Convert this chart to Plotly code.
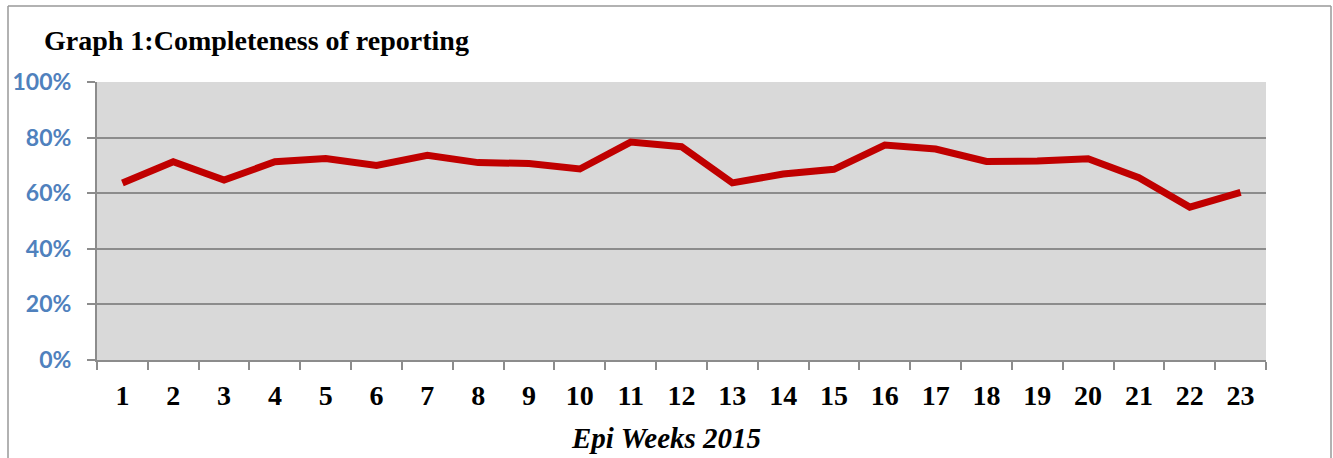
import plotly.graph_objects as go

weeks = [str(i) for i in range(1, 24)]
completeness = [63.7, 71.3, 64.7, 71.3, 72.5, 70.0, 73.6, 71.0, 70.7, 68.7,
                78.4, 76.7, 63.7, 66.9, 68.6, 77.3, 75.9, 71.4, 71.6, 72.4,
                65.6, 55.0, 60.3]
y_ticks = [0, 20, 40, 60, 80, 100]
y_labels = ["0%", "20%", "40%", "60%", "80%", "100%"]

W, H = 1333, 458
L, R, T, B = 97, 67, 82, 98
pw, ph = W - L - R, H - T - B

def px_x(x):
    return (x - L) / pw

def px_y(y):
    return (H - B - y) / ph

fig = go.Figure()
fig.add_trace(go.Scatter(
    x=weeks, y=completeness, mode="lines",
    line=dict(color="#C00000", width=7),
    hoverinfo="x+y",
))

gray = "#8c8c8c"
serif = "Liberation Serif"
fig.update_layout(
    width=W, height=H,
    margin=dict(l=L, r=R, t=T, b=B),
    paper_bgcolor="white",
    plot_bgcolor="#D9D9D9",
    showlegend=False,
    title=dict(
        text="Graph 1:Completeness of reporting",
        font=dict(family=serif, size=28, color="black", weight="bold"),
        x=44 / W, xanchor="left", y=1 - 40 / H, yanchor="middle",
    ),
    xaxis=dict(
        type="category",
        range=[-0.5, len(weeks) - 0.5],
        tickson="boundaries",
        ticks="outside", ticklen=8, tickcolor=gray, tickwidth=1.5,
        showline=True, linecolor=gray, linewidth=2,
        showgrid=False,
        tickfont=dict(family=serif, size=28, color="black", weight="bold"),
        ticklabelstandoff=9,
        fixedrange=True,
    ),
    yaxis=dict(
        range=[0, 100],
        tickvals=y_ticks, ticktext=y_labels,
        ticks="outside", ticklen=8, tickcolor=gray, tickwidth=1.5,
        showline=True, linecolor=gray, linewidth=2,
        showgrid=True, gridcolor=gray, gridwidth=1.5,
        zeroline=False,
        tickfont=dict(family="Lato", size=23, color="#4F81BD", weight="bold"),
        ticklabelstandoff=11,
        fixedrange=True,
    ),
    annotations=[
        dict(text="<i>Epi Weeks 2015</i>", xref="paper", yref="paper",
             x=px_x(666), y=px_y(438), xanchor="center", yanchor="middle",
             showarrow=False,
             font=dict(family=serif, size=29, color="black", weight="bold")),
    ],
    shapes=[
        dict(type="line", xref="paper", yref="paper",
             x0=px_x(8), x1=px_x(1331), y0=px_y(6), y1=px_y(6),
             line=dict(color="#999999", width=1.5)),
        dict(type="line", xref="paper", yref="paper",
             x0=px_x(8), x1=px_x(8), y0=px_y(6), y1=px_y(460),
             line=dict(color="#999999", width=1.5)),
        dict(type="line", xref="paper", yref="paper",
             x0=px_x(1331), x1=px_x(1331), y0=px_y(6), y1=px_y(460),
             line=dict(color="#999999", width=1.5)),
    ],
)

fig.write_html("out.html", config={"displayModeBar": False},
               post_script="document.body.style.margin='0';")
